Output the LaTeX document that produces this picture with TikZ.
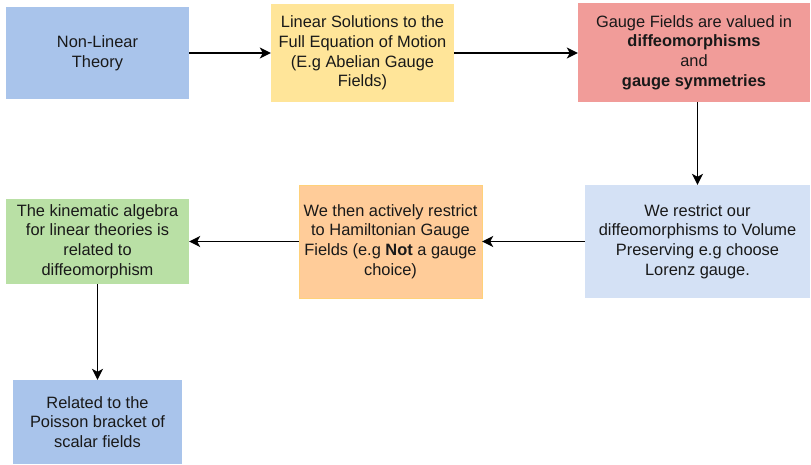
\documentclass[tikz,border=0pt]{standalone}
\usepackage{fontspec}
\setmainfont{Liberation Sans}
\usetikzlibrary{arrows.meta}
\definecolor{cblue}{HTML}{A9C4EB}
\definecolor{cyellow}{HTML}{FFE599}
\definecolor{cred}{HTML}{F19C99}
\definecolor{clblue}{HTML}{D4E1F5}
\definecolor{corange}{HTML}{FFCC99}
\definecolor{cgreen}{HTML}{B9E0A5}
\tikzset{
  boxnode/.style={rectangle, inner sep=0pt, align=center, font=\fontsize{16.4pt}{19.7pt}\selectfont, text=black!90},
  conn/.style={line width=1.3pt, -{Stealth[length=11pt,width=11pt,inset=3pt]}}
}
\begin{document}
\begin{tikzpicture}[x=1pt,y=-1pt]
\useasboundingbox (0,0) rectangle (811,464);
\node[boxnode, fill=cblue, minimum width=183pt, minimum height=92pt] (n1) at (97.5,53) {Non-Linear\\Theory};
\node[boxnode, fill=cyellow, minimum width=183pt, minimum height=98pt] (n2) at (362.5,53) {Linear Solutions to the\\Full Equation of Motion\\(E.g Abelian Gauge\\Fields)};
\node[boxnode, fill=cred, minimum width=232pt, minimum height=99pt] (n3) at (694,52.5) {Gauge Fields are valued in\\\textbf{diffeomorphisms}\\and\\\textbf{gauge symmetries}};
\node[boxnode, fill=clblue, minimum width=225pt, minimum height=113pt] (n4) at (697.5,241.5) {We restrict our\\diffeomorphisms to Volume\\Preserving e.g choose\\Lorenz gauge.};
\node[boxnode, fill=corange, draw=cyellow!80!orange, minimum width=183pt, minimum height=113pt] (n5) at (390.5,241.5) {We then actively restrict\\to Hamiltonian Gauge\\Fields (e.g \textbf{Not} a gauge\\choice)};
\node[boxnode, fill=cgreen, minimum width=183pt, minimum height=85pt] (n6) at (97.5,241.5) {The kinematic algebra\\for linear theories is\\related to\\diffeomorphism};
\node[boxnode, fill=cblue, minimum width=169pt, minimum height=84pt] (n7) at (97.5,422) {Related to the\\Poisson bracket of\\scalar fields};
\draw[conn] (n1.east) -- (n2.west);
\draw[conn] (n2.east) -- (n2.east -| n3.west);
\draw[conn] (n4.north |- n3.south) -- (n4.north);
\draw[conn] (n4.west) -- (n5.east);
\draw[conn] (n5.west) -- (n6.east);
\draw[conn] (n6.south) -- (n7.north);
\end{tikzpicture}
\end{document}
